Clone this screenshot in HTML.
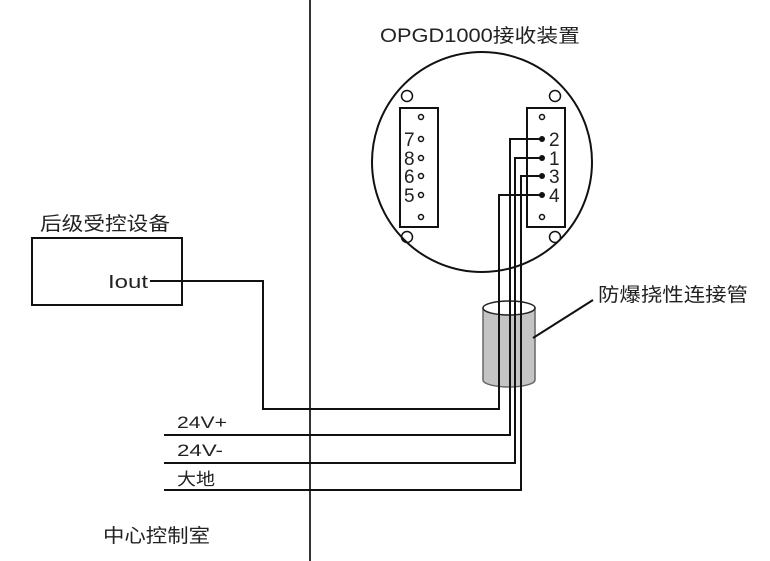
<!DOCTYPE html>
<html><head><meta charset="utf-8"><style>
html,body{margin:0;padding:0;background:#fff;}
svg{display:block;}
text{font-family:"Liberation Sans","Noto Sans CJK SC",sans-serif;fill:#222;}
</style></head><body>
<svg width="770" height="561" viewBox="0 0 770 561" xmlns="http://www.w3.org/2000/svg">
<g fill="none" stroke="#111" stroke-width="2">
<line x1="310" y1="0" x2="310" y2="561" stroke="#333"/>
<rect x="32" y="238" width="150" height="67"/>
<circle cx="482" cy="162" r="110" />
<rect x="400" y="108" width="38" height="119"/>
<rect x="527" y="108" width="38" height="119"/>
</g>
<g fill="none" stroke="#111" stroke-width="1.5">
<circle cx="407" cy="96" r="5.5"/><circle cx="555" cy="96" r="5.5"/>
<circle cx="407" cy="237" r="5.5"/><circle cx="555" cy="237" r="5.5"/>
<circle cx="421" cy="117" r="2.5"/><circle cx="421" cy="139" r="2.5"/><circle cx="421" cy="158" r="2.5"/>
<circle cx="421" cy="176" r="2.5"/><circle cx="421" cy="195" r="2.5"/><circle cx="421" cy="217" r="2.5"/>
<circle cx="542" cy="117" r="2.5"/><circle cx="542" cy="217" r="2.5"/>
</g>
<g fill="#111">
<circle cx="542" cy="139" r="3"/><circle cx="542" cy="158" r="3"/>
<circle cx="542" cy="176" r="3"/><circle cx="542" cy="195" r="3"/>
</g>
<path d="M483 308 L483 380 A26 7 0 0 0 535 380 L535 308 Z" fill="#c4c4c4" stroke="#666" stroke-width="1.5"/>
<ellipse cx="509" cy="308" rx="26" ry="7" fill="#fff" stroke="#222" stroke-width="1.5"/>
<g fill="none" stroke="#111" stroke-width="2">
<polyline points="150,281 263,281 263,409 499,409 499,195 542,195"/>
<polyline points="164,435 510,435 510,139 542,139"/>
<polyline points="164,463 515,463 515,158 542,158"/>
<polyline points="164,490 521,490 521,176 542,176"/>
<line x1="533" y1="338" x2="593" y2="300"/>
</g>
<g font-size="19" lengthAdjust="spacingAndGlyphs">
<text x="380" y="42" textLength="200" lengthAdjust="spacingAndGlyphs">OPGD1000接收装置</text>
<text x="40" y="230" textLength="130" lengthAdjust="spacingAndGlyphs">后级受控设备</text>
<text x="598" y="301" textLength="150" lengthAdjust="spacingAndGlyphs">防爆挠性连接管</text>
<text x="103" y="542" textLength="107" lengthAdjust="spacingAndGlyphs">中心控制室</text>
<text x="177" y="428" font-size="17" textLength="50" lengthAdjust="spacingAndGlyphs">24V+</text>
<text x="177" y="456" font-size="17" textLength="46" lengthAdjust="spacingAndGlyphs">24V-</text>
<text x="177" y="485" font-size="17" textLength="38" lengthAdjust="spacingAndGlyphs">大地</text>
</g>
<text x="108" y="288" font-size="18" font-family="Liberation Serif,serif" textLength="40" lengthAdjust="spacingAndGlyphs">Iout</text>
<g font-size="19">
<text x="404" y="146">7</text><text x="404" y="165">8</text><text x="404" y="183">6</text><text x="404" y="202">5</text>
<text x="549" y="146">2</text><text x="549" y="165">1</text><text x="549" y="183">3</text><text x="549" y="202">4</text>
</g>
</svg>
</body></html>
